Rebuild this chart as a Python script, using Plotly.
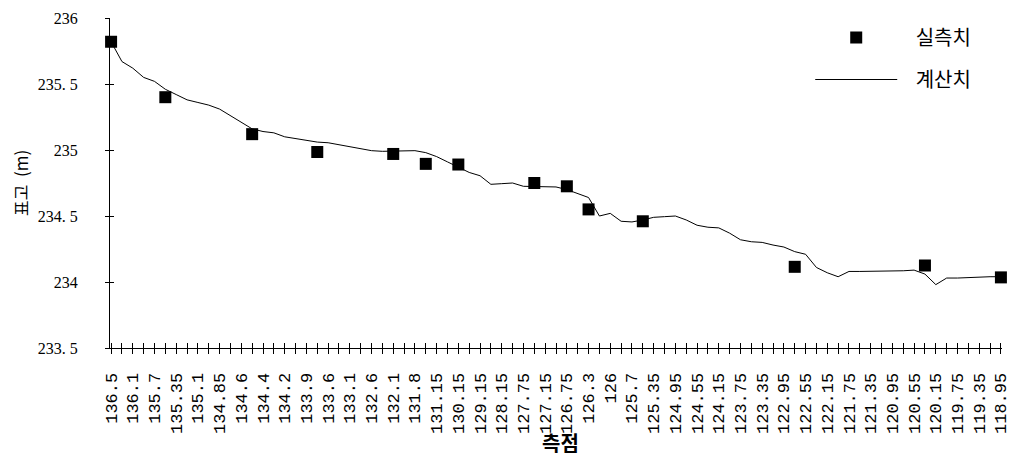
import plotly.graph_objects as go

# Station labels (shown every other category)
station_labels = ["136.5", "136.1", "135.7", "135.35", "135.1", "134.85", "134.6", "134.4",
                  "134.2", "133.9", "133.6", "133.1", "132.6", "132.1", "131.8", "131.15",
                  "130.15", "129.15", "128.15", "127.75", "127.15", "126.75", "126.3", "126",
                  "125.7", "125.35", "124.95", "124.55", "124.15", "123.75", "123.35", "122.95",
                  "122.55", "122.15", "121.75", "121.35", "120.95", "120.55", "120.15", "119.75",
                  "119.35", "118.95"]

# Computed water level at each category position (83 categories)
calc_values = [235.82, 235.67, 235.62, 235.55, 235.52, 235.46, 235.42, 235.38, 235.36, 235.34,
               235.31, 235.26, 235.21, 235.16, 235.14, 235.13, 235.10, 235.085, 235.07, 235.06,
               235.055, 235.04, 235.03, 235.01, 234.995, 234.99, 234.99, 234.995, 234.995, 234.98,
               234.95, 234.91, 234.87, 234.83, 234.805, 234.74, 234.745, 234.75, 234.725, 234.725,
               234.72, 234.72, 234.70, 234.67, 234.64, 234.50, 234.52, 234.46, 234.455, 234.47,
               234.49, 234.495, 234.50, 234.47, 234.43, 234.415, 234.41, 234.37, 234.32, 234.305,
               234.30, 234.28, 234.265, 234.23, 234.21, 234.11, 234.07, 234.04, 234.08, 234.08,
               234.08, 234.08, 234.085, 234.085, 234.09, 234.06, 233.98, 234.03, 234.03, 234.035,
               234.04, 234.04, 234.04]

# Measured points: category index and value
meas_index = [0, 5, 13, 19, 26, 29, 32, 39, 42, 44, 49, 63, 75, 82]
meas_values = [235.82, 235.40, 235.12, 234.985, 234.97, 234.895, 234.89, 234.75, 234.725,
               234.55, 234.46, 234.115, 234.125, 234.035]

y_tickvals = [233.5, 234, 234.5, 235, 235.5, 236]
y_ticktext = ["233. 5", "234", "234. 5", "235", "235. 5", "236"]

n_cat = len(calc_values)
cat_index = list(range(n_cat))
x_tickvals = cat_index
x_ticktext = [station_labels[i // 2] if i % 2 == 0 else "" for i in cat_index]

KFONT = "Noto Sans CJK KR"
SERIF = "Liberation Serif"
NB = "\u00a0"

fig = go.Figure()
fig.add_trace(go.Scatter(x=meas_index, y=meas_values, mode="markers", name=NB * 3 + "실측치",
                         marker=dict(symbol="square", size=12, color="black"),
                         legendgroup="a", cliponaxis=False))
fig.add_trace(go.Scatter(x=cat_index, y=calc_values, mode="lines", name=NB * 3 + "계산치",
                         line=dict(color="black", width=1), legendgroup="b"))
# overlay axes for inner half of cross-shaped ticks
fig.add_trace(go.Scatter(x=[], y=[], xaxis="x2", yaxis="y2", showlegend=False))

xr = [-0.1, 82.1]
yr = [233.5, 236]
fig.update_layout(
    width=1011, height=454,
    margin=dict(l=102, r=17, t=10, b=114, autoexpand=False),
    plot_bgcolor="white", paper_bgcolor="white",
    showlegend=True,
    legend=dict(x=0.785, y=1.0, xanchor="left", yanchor="top",
                font=dict(family=KFONT, size=20, color="black"),
                itemwidth=82, tracegroupgap=13, bgcolor="rgba(0,0,0,0)"),
    xaxis=dict(range=xr, tickmode="array", tickvals=x_tickvals, ticktext=x_ticktext,
               tickangle=-90, ticks="outside", ticklen=5, tickwidth=1, tickcolor="black",
               showline=True, linecolor="black", linewidth=1, showgrid=False, zeroline=False,
               automargin=False,
               tickfont=dict(family="Liberation Mono", size=17, color="black"),
               ticklabelstandoff=12),
    yaxis=dict(range=yr, tickmode="array", tickvals=y_tickvals, ticktext=y_ticktext,
               ticks="outside", ticklen=4, tickwidth=1, tickcolor="black",
               showline=True, linecolor="black", linewidth=1, showgrid=False, zeroline=False,
               automargin=False,
               tickfont=dict(family=SERIF, size=16, color="black"),
               ticklabelstandoff=24),
    xaxis2=dict(range=xr, overlaying="x", anchor="y2", side="bottom", tickmode="array",
                tickvals=x_tickvals, ticks="inside", ticklen=5, tickcolor="black",
                showticklabels=False, showgrid=False, zeroline=False, showline=False,
                automargin=False),
    yaxis2=dict(range=yr, overlaying="y", anchor="x2", side="left", tickmode="array",
                tickvals=y_tickvals, ticks="inside", ticklen=4, tickcolor="black",
                showticklabels=False, showgrid=False, zeroline=False, showline=False,
                automargin=False),
    annotations=[
        dict(text="표고" + NB * 2 + "(m)", textangle=-90, xref="paper", yref="paper",
             x=(20 - 110) / 892, y=0.5, xanchor="center", yanchor="middle",
             showarrow=False, font=dict(family=KFONT, size=17, color="black")),
        dict(text="<b>측점</b>", xref="paper", yref="paper",
             x=(560 - 110) / 892, y=(348 - 442) / 330, xanchor="center", yanchor="middle",
             showarrow=False, font=dict(family=KFONT, size=20, color="black")),
    ],
)

fig.write_html("out.html")
